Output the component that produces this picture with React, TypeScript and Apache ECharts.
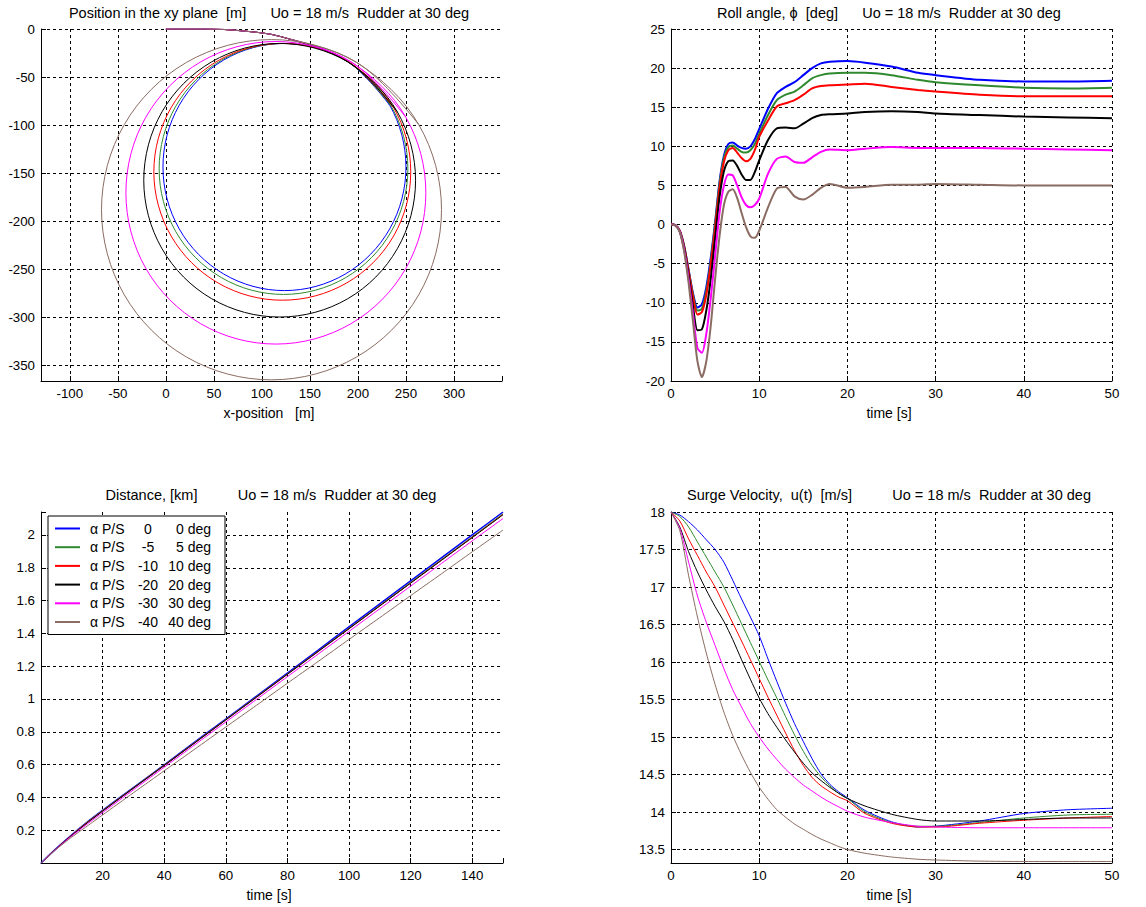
import React, { useEffect, useRef } from 'react';
import * as echarts from 'echarts';

const FONT = 'Arial, "Liberation Sans", Helvetica, sans-serif';

const seriesColors = ['#0000ff', '#2f8a2f', '#ff0000', '#000000', '#ff00ff', '#8a6c62'];
const alphaPort = ['0', '-5', '-10', '-20', '-30', '-40'];
const alphaStbd = ['0', '5', '10', '20', '30', '40'];

// ---------- Position in the xy plane (x, y) [m] ----------
const xyBlue = [[0, 0], [40, 0], [80, -2], [120, -8], [186.8, -32.2], [233.1, -79.3], [250, -143.5], [233.1, -207.8], [186.8, -254.8], [123.5, -272], [60.3, -254.8], [13.9, -207.8], [-3, -143.5], [13.9, -79.3], [60.3, -32.2], [123.5, -15], [186.8, -32.2], [233.1, -79.3]];
const xyGreen = [[0, 0], [40, 0], [80, -2], [120, -8], [187.3, -32.5], [234.6, -80.2], [252, -145.5], [234.6, -210.8], [187.3, -258.5], [122.5, -276], [57.8, -258.5], [10.4, -210.8], [-7, -145.5], [10.4, -80.2], [57.8, -32.5], [122.5, -15], [187.3, -32.5], [234.6, -80.2]];
const xyRed = [[0, 0], [40, 0], [80, -2], [120, -8], [188.2, -32.9], [237.1, -81.7], [255, -148.5], [237.1, -215.3], [188.2, -264.1], [121.3, -282], [54.4, -264.1], [5.5, -215.3], [-12.5, -148.5], [5.5, -81.7], [54.4, -32.9], [121.3, -15], [188.2, -32.9], [237.1, -81.7]];
const xyBlack = [[0, 0], [40, 0], [80, -2], [120, -8], [189.3, -34.1], [241, -86.1], [260, -157.3], [241, -228.5], [189.3, -280.5], [118.5, -299.5], [47.8, -280.5], [-4, -228.5], [-23, -157.3], [-4, -86.1], [47.8, -34.1], [118.5, -15], [189.3, -34.1], [241, -86.1]];
const xyMagenta = [[0, 0], [40, 0], [80, -2], [120, -8], [192.6, -34.1], [249.8, -91.6], [270.7, -170.3], [249.8, -249], [192.6, -306.5], [114.5, -327.6], [36.4, -306.5], [-20.8, -249], [-41.6, -170.3], [-20.8, -91.6], [36.4, -34.1], [114.5, -13], [192.6, -34.1], [249.8, -91.6]];
const xyBrown = [[0, 0], [40, 0], [80, -2], [120, -8], [198.5, -34.7], [263.3, -99.4], [287, -187.9], [263.3, -276.4], [198.5, -341.1], [110, -364.8], [21.5, -341.1], [-43.3, -276.4], [-67, -187.9], [-43.3, -99.4], [21.5, -34.7], [110, -11], [198.5, -34.7], [263.3, -99.4]];
const xyXTicks = [-100, -50, 0, 50, 100, 150, 200, 250, 300];
const xyYTicks = [0, -50, -100, -150, -200, -250, -300, -350];

// ---------- Roll angle [deg] ----------
const rollTime = [0, 0.5, 1, 1.5, 2, 2.5, 3, 3.5, 4, 4.5, 5, 5.5, 6, 6.5, 7, 7.5, 8, 8.5, 9, 9.5, 10, 11, 12, 13, 14, 15, 16, 17, 18, 20, 22, 25, 28, 30, 35, 40, 45, 50];
const rollBlue = [0, -0.1, -0.8, -2.8, -5.8, -8.8, -10.6, -10.2, -8, -4.3, 0.3, 5.5, 8.8, 10.3, 10.5, 10.1, 9.8, 9.7, 10, 10.9, 12.2, 14.8, 16.8, 17.6, 18.2, 19.1, 20, 20.6, 20.8, 20.9, 20.7, 20.2, 19.4, 19.1, 18.5, 18.3, 18.3, 18.4];
const rollGreen = [0, -0.1, -0.8, -2.8, -5.9, -9, -11, -10.8, -8.5, -4.8, 0, 5.2, 8.5, 9.9, 10.1, 9.7, 9.3, 9.2, 9.5, 10.3, 11.6, 14, 15.9, 16.6, 17, 17.8, 18.7, 19.1, 19.3, 19.4, 19.4, 19.1, 18.5, 18.2, 17.8, 17.5, 17.4, 17.5];
const rollRed = [0, -0.1, -0.8, -2.9, -6, -9.3, -11.5, -11.2, -9, -5.2, -0.5, 4.7, 8, 9.5, 9.8, 9.2, 8.5, 8.1, 8.4, 9.5, 11.2, 13.3, 15.1, 15.5, 15.9, 16.6, 17.4, 17.7, 17.8, 17.9, 18, 17.6, 17.2, 17, 16.6, 16.4, 16.4, 16.4];
const rollBlack = [0, -0.1, -0.9, -3.1, -6.5, -10.5, -13.5, -13.4, -11, -7, -1.8, 3.5, 6.8, 8.1, 8.2, 7.5, 6.4, 5.7, 5.7, 6.7, 8.2, 10.8, 12.3, 12.4, 12.3, 12.9, 13.6, 14, 14.1, 14.2, 14.4, 14.5, 14.4, 14.2, 14, 13.8, 13.7, 13.6];
const rollMagenta = [0, -0.1, -0.9, -3.3, -7, -11.5, -15.8, -16.4, -14, -9.5, -4, 1.5, 5, 6.4, 6.3, 5, 3.5, 2.5, 2.2, 2.5, 3.3, 6.5, 8.4, 8.7, 8, 7.9, 8.6, 9.3, 9.6, 9.5, 9.7, 9.9, 9.8, 9.8, 9.8, 9.7, 9.6, 9.5];
const rollBrown = [0, -0.1, -1, -3.5, -7.5, -12.5, -17.5, -19.5, -17.5, -13, -7, -1.5, 2.5, 4.2, 4.5, 3.4, 1.5, -0.3, -1.5, -1.7, -0.8, 2.2, 4.6, 4.8, 3.6, 3.2, 3.8, 4.7, 5.2, 4.7, 4.8, 5.1, 5.1, 5.2, 5.1, 5, 5, 5];

// ---------- Distance [km] ----------
const distTime = [0, 5, 10, 15, 20, 30, 40, 50, 60, 70, 80, 90, 100, 110, 120, 130, 140, 150];
const distBlue = [0, 0.089, 0.172, 0.25, 0.321, 0.46, 0.598, 0.738, 0.878, 1.018, 1.158, 1.298, 1.44, 1.58, 1.72, 1.86, 2.0, 2.14];
const distGreen = [0, 0.089, 0.171, 0.249, 0.32, 0.459, 0.597, 0.736, 0.875, 1.014, 1.153, 1.292, 1.432, 1.571, 1.711, 1.85, 1.989, 2.13];
const distRed = [0, 0.088, 0.17, 0.247, 0.318, 0.457, 0.595, 0.734, 0.873, 1.012, 1.151, 1.29, 1.429, 1.568, 1.707, 1.846, 1.985, 2.125];
const distBlack = [0, 0.087, 0.168, 0.244, 0.316, 0.456, 0.594, 0.733, 0.872, 1.011, 1.15, 1.289, 1.428, 1.567, 1.706, 1.845, 1.984, 2.123];
const distMagenta = [0, 0.086, 0.165, 0.237, 0.307, 0.446, 0.584, 0.722, 0.86, 0.998, 1.136, 1.274, 1.412, 1.55, 1.688, 1.826, 1.964, 2.1];
const distBrown = [0, 0.084, 0.158, 0.225, 0.293, 0.428, 0.562, 0.695, 0.829, 0.962, 1.096, 1.229, 1.363, 1.496, 1.63, 1.763, 1.897, 2.03];
const distXTicks = [20, 40, 60, 80, 100, 120, 140];
const distYTicks = [0.2, 0.4, 0.6, 0.8, 1, 1.2, 1.4, 1.6, 1.8, 2];

// ---------- Surge velocity u(t) [m/s] ----------
const surgeTime = [0, 1, 2, 3, 4, 5, 6, 7, 8, 9, 10, 11, 12, 13, 14, 15, 16, 17, 18, 19, 20, 22, 25, 28, 30, 35, 40, 45, 50];
const surgeBlue = [18, 17.96, 17.87, 17.76, 17.63, 17.5, 17.33, 17.09, 16.84, 16.6, 16.35, 16.04, 15.74, 15.45, 15.18, 14.94, 14.71, 14.51, 14.37, 14.27, 14.19, 14.02, 13.87, 13.8, 13.81, 13.88, 13.98, 14.03, 14.05];
const surgeGreen = [18, 17.94, 17.8, 17.6, 17.4, 17.2, 17.0, 16.76, 16.51, 16.26, 16.01, 15.76, 15.52, 15.27, 15.03, 14.81, 14.62, 14.47, 14.35, 14.25, 14.18, 14.0, 13.86, 13.81, 13.81, 13.86, 13.92, 13.96, 13.97];
const surgeRed = [18, 17.88, 17.64, 17.42, 17.2, 17.0, 16.76, 16.52, 16.28, 16.03, 15.78, 15.53, 15.29, 15.05, 14.82, 14.62, 14.46, 14.35, 14.27, 14.2, 14.15, 13.98, 13.85, 13.8, 13.8, 13.85, 13.89, 13.92, 13.94];
const surgeBlack = [18, 17.8, 17.47, 17.2, 16.96, 16.74, 16.54, 16.3, 16.03, 15.77, 15.52, 15.31, 15.13, 14.96, 14.8, 14.65, 14.52, 14.42, 14.33, 14.25, 14.18, 14.08, 13.97, 13.9, 13.88, 13.88, 13.9, 13.92, 13.92];
const surgeMagenta = [18, 17.78, 17.33, 16.88, 16.53, 16.22, 15.91, 15.63, 15.4, 15.18, 15.0, 14.84, 14.7, 14.57, 14.46, 14.36, 14.28, 14.2, 14.13, 14.07, 14.01, 13.93, 13.86, 13.81, 13.8, 13.79, 13.79, 13.79, 13.79];
const surgeBrown = [18, 17.75, 17.15, 16.6, 16.12, 15.7, 15.33, 15.02, 14.76, 14.53, 14.33, 14.17, 14.03, 13.93, 13.84, 13.77, 13.7, 13.64, 13.59, 13.54, 13.5, 13.45, 13.4, 13.37, 13.36, 13.345, 13.34, 13.34, 13.34];
const surgeYTicks = [13.5, 14, 14.5, 15, 15.5, 16, 16.5, 17, 17.5, 18];

const titles = [
  'Position in the xy plane  [m]      Uo = 18 m/s  Rudder at 30 deg',
  'Roll angle, \u03d5  [deg]      Uo = 18 m/s  Rudder at 30 deg',
  'Distance, [km]          Uo = 18 m/s  Rudder at 30 deg',
  'Surge Velocity,  u(t)  [m/s]          Uo = 18 m/s  Rudder at 30 deg',
];
const axisNames = ['x-position   [m]', 'time [s]', 'time [s]', 'time [s]'];

const TICK_FS = 13.3;
const TITLE_FS = 14.5;
const NAME_FS = 14;
const LEGEND_FS = 14;

const nb = (s: string) => s.replace(/ /g, '\u00a0');

function labelFrom(list: number[]) {
  return (v: number) => {
    const hit = list.find((t) => Math.abs(t - v) < 1e-6);
    return hit === undefined ? '' : String(hit);
  };
}

const tickLabel = (extra: any = {}) => ({ color: '#000', fontFamily: FONT, fontSize: TICK_FS, margin: 6, ...extra });

function axis(gridIndex: number, extra: any, showMinLine: boolean, showMaxLine: boolean) {
  return {
    type: 'value',
    gridIndex,
    axisLine: { show: true, onZero: false, lineStyle: { color: '#000', width: 1 } },
    axisTick: { show: true, inside: true, length: 5, lineStyle: { color: '#000', width: 1 } },
    axisLabel: tickLabel(),
    splitLine: {
      show: true,
      showMinLine,
      showMaxLine,
      lineStyle: { color: '#000', width: 1, type: [3, 3] },
    },
    ...extra,
  };
}

export default function App() {
  const ref = useRef<HTMLDivElement>(null);
  useEffect(() => {
    document.body.style.margin = '0';
    const chart = echarts.init(ref.current!, undefined, { renderer: 'svg' });
    const names = alphaPort.map((p, i) => `α P/S ${p} ${alphaStbd[i]} deg`);
    const xyData = [xyBlue, xyGreen, xyRed, xyBlack, xyMagenta, xyBrown];
    const rollData = [rollBlue, rollGreen, rollRed, rollBlack, rollMagenta, rollBrown];
    const distData = [distBlue, distGreen, distRed, distBlack, distMagenta, distBrown];
    const surgeData = [surgeBlue, surgeGreen, surgeRed, surgeBlack, surgeMagenta, surgeBrown];

    const base = (i: number, gi: number, width: number) => ({
      type: 'line',
      name: names[i],
      xAxisIndex: gi,
      yAxisIndex: gi,
      showSymbol: false,
      symbol: 'none',
      color: seriesColors[i],
      itemStyle: { color: seriesColors[i] },
      lineStyle: { color: seriesColors[i], width },
      silent: true,
    });

    const series: any[] = [
      ...xyData.map((d, i) => ({ ...base(i, 0, 1), data: d, smooth: 0.35 })),
      ...rollData.map((d, i) => ({
        ...base(i, 1, 2),
        data: rollTime.map((t, k) => [t, d[k]]),
        smooth: 0.25,
      })),
      ...distData.map((d, i) => ({
        ...base(i, 2, i === 0 ? 1.5 : 1),
        data: distTime.map((t, k) => [t, d[k]]),
        smooth: 0.2,
      })),
      ...surgeData.map((d, i) => ({
        ...base(i, 3, 1),
        data: surgeTime.map((t, k) => [t, d[k]]),
        smooth: 0.25,
      })),
    ];

    const textEl = (text: string, x: number, y: number, fs: number) => ({
      type: 'text',
      x,
      y,
      silent: true,
      style: {
        text: nb(text),
        fontFamily: FONT,
        fontSize: fs,
        fill: '#000',
        align: 'center',
        verticalAlign: 'middle',
        textAlign: 'center',
        textVerticalAlign: 'middle',
      },
    });

    chart.setOption({
      animation: false,
      backgroundColor: '#fff',
      textStyle: { fontFamily: FONT },
      grid: [
        { left: 41, top: 29, width: 461, height: 352, containLabel: false },
        { left: 671, top: 29, width: 441, height: 352, containLabel: false },
        { left: 41, top: 512, width: 462, height: 351, containLabel: false },
        { left: 671, top: 512, width: 441, height: 351, containLabel: false },
      ],
      xAxis: [
        axis(0, { min: -130, max: 350, splitNumber: 10, axisLabel: tickLabel({ formatter: labelFrom(xyXTicks) }) }, false, false),
        axis(1, { min: 0, max: 50, interval: 10 }, false, true),
        axis(2, { min: 0, max: 150, interval: 20, axisLabel: tickLabel({ formatter: labelFrom(distXTicks) }) }, false, false),
        axis(3, { min: 0, max: 50, interval: 10 }, false, true),
      ],
      yAxis: [
        axis(0, { min: -366, max: 0, splitNumber: 8, axisLabel: tickLabel({ formatter: labelFrom(xyYTicks) }) }, false, true),
        axis(1, { min: -20, max: 25, interval: 5 }, false, true),
        axis(2, { min: 0, max: 2.14, interval: 0.2, axisLabel: tickLabel({ formatter: labelFrom(distYTicks) }) }, false, false),
        axis(3, { min: 13.32, max: 18, splitNumber: 9, axisLabel: tickLabel({ formatter: labelFrom(surgeYTicks) }) }, false, true),
      ],
      legend: {
        show: true,
        data: names,
        orient: 'vertical',
        left: 48,
        top: 516,
        padding: [4.5, 14, 4.5, 7],
        itemGap: 2.7,
        itemWidth: 25,
        itemHeight: 2,
        icon: 'rect',
        selectedMode: false,
        backgroundColor: '#fff',
        borderColor: '#000',
        borderWidth: 1,
        borderRadius: 0,
        textStyle: {
          fontFamily: FONT,
          fontSize: LEGEND_FS,
          color: '#000',
          lineHeight: 16,
          rich: {
            p: { width: 5, fontFamily: FONT, fontSize: LEGEND_FS },
            a: { width: 38, align: 'left', fontFamily: FONT, fontSize: LEGEND_FS, color: '#000' },
            b: { width: 40, align: 'center', fontFamily: FONT, fontSize: LEGEND_FS, color: '#000' },
            c: { width: 43, align: 'right', fontFamily: FONT, fontSize: LEGEND_FS, color: '#000' },
          },
        },
        formatter: (name: string) => {
          const i = names.indexOf(name);
          return `{p|}{a|α P/S}{b|${alphaPort[i]}}{c|${alphaStbd[i]} deg}`;
        },
      },
      graphic: [
        textEl(titles[0], 269, 13, TITLE_FS),
        textEl(titles[1], 889, 13, TITLE_FS),
        textEl(titles[2], 271, 495, TITLE_FS),
        textEl(titles[3], 889, 495, TITLE_FS),
        textEl(axisNames[0], 269, 413, NAME_FS),
        textEl(axisNames[1], 889, 413, NAME_FS),
        textEl(axisNames[2], 269, 895, NAME_FS),
        textEl(axisNames[3], 889, 895, NAME_FS),
      ],
      series,
    });
    return () => chart.dispose();
  }, []);
  return <div ref={ref} style={{ width: 1146, height: 907, position: 'absolute', left: 0, top: 0 }} />;
}
